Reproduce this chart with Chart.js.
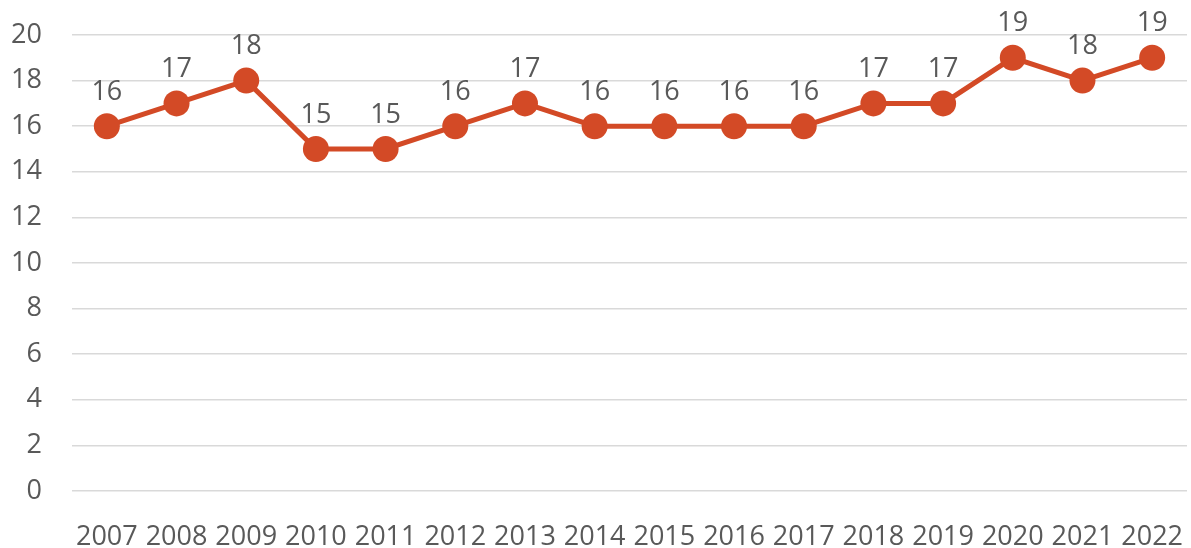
<!DOCTYPE html>
<html>
<head>
<meta charset="utf-8">
<script src="https://cdn.jsdelivr.net/npm/chart.js@4"></script>
<style>
  html, body { margin: 0; padding: 0; background: #fff; }
  #wrap { width: 1191px; height: 548px; position: relative; }
</style>
</head>
<body>
<div id="wrap"><canvas id="chart"></canvas></div>
<script>
const years = ['2007', '2008', '2009', '2010', '2011', '2012', '2013', '2014',
  '2015', '2016', '2017', '2018', '2019', '2020', '2021', '2022'];
const values = [16, 17, 18, 15, 15, 16, 17, 16, 16, 16, 16, 17, 17, 19, 18, 19];

const lineColor = '#d34a26';
const textColor = '#595959';
const fontFamily = '"Open Sans", "Noto Sans", sans-serif';

// value labels above each point
const pointLabels = {
  id: 'pointLabels',
  afterDatasetsDraw(chart) {
    const { ctx } = chart;
    const meta = chart.getDatasetMeta(0);
    ctx.save();
    ctx.font = `27px ${fontFamily}`;
    ctx.fillStyle = textColor;
    ctx.textAlign = 'center';
    ctx.textBaseline = 'middle';
    meta.data.forEach((pt, i) => {
      ctx.fillText(String(values[i]), pt.x, pt.y - 34);
    });
    ctx.restore();
  }
};

new Chart(document.getElementById('chart'), {
  type: 'line',
  data: {
    labels: years,
    datasets: [{
      data: values,
      borderColor: lineColor,
      backgroundColor: lineColor,
      borderWidth: 5,
      pointRadius: 13,
      pointBackgroundColor: lineColor,
      pointBorderWidth: 0,
      tension: 0,
      clip: false,
    }]
  },
  options: {
    responsive: true,
    maintainAspectRatio: false,
    animation: false,
    layout: { autoPadding: false, padding: { top: 35, right: 4, left: 0, bottom: 0 } },
    plugins: {
      legend: { display: false },
      tooltip: { enabled: false },
    },
    scales: {
      x: {
        offset: true,
        grid: { display: false, drawTicks: false },
        border: { display: false },
        ticks: {
          color: textColor,
          font: { family: fontFamily, size: 27 },
          padding: 30,
          maxRotation: 0,
          autoSkip: false,
        },
        afterFit: axis => {
          axis.height = 57;
          axis.paddingLeft = 0;
          axis.paddingRight = 0;
        },
      },
      y: {
        min: 0,
        max: 20,
        grid: { color: '#d9d9d9', lineWidth: 1.5, drawTicks: false },
        border: { display: false },
        ticks: {
          stepSize: 2,
          color: textColor,
          font: { family: fontFamily, size: 27 },
          padding: 30,
        },
        afterFit: axis => {
          axis.width = 72;
          axis.paddingTop = 0;
          axis.paddingBottom = 0;
        },
      }
    }
  },
  plugins: [pointLabels]
});
</script>
</body>
</html>
